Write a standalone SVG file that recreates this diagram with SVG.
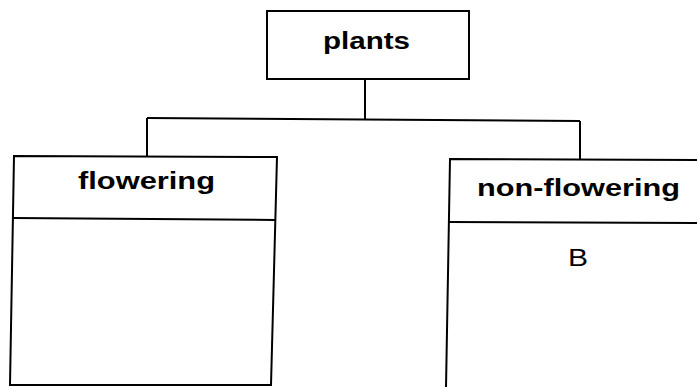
<svg xmlns="http://www.w3.org/2000/svg" width="697" height="387" viewBox="0 0 697 387">
<style>
.box{fill:none;stroke:#000;stroke-width:2;stroke-linejoin:miter}
.con{fill:none;stroke:#000;stroke-width:2}
.lbl{font-family:"Liberation Sans",Arial,sans-serif;font-weight:bold;font-size:23px;fill:#000}
.item{font-family:"Liberation Sans",Arial,sans-serif;font-size:24px;fill:#000}
</style>
<rect width="697" height="387" fill="#fff"/>
<g id="connectors">
<path class="con" d="M365,79 L365,119"/>
<path class="con" d="M147,118 L580,121"/>
<path class="con" d="M147,118 L147,156"/>
<path class="con" d="M580,121 L580,159"/>
</g>
<g id="plants">
<rect class="box" x="267" y="11" width="202" height="68"/>
<text class="lbl" x="323" y="49" textLength="87" lengthAdjust="spacingAndGlyphs">plants</text>
</g>
<g id="flowering">
<path class="box" d="M14,156 L277,157 L271,385 L10,385 Z"/>
<path class="box" d="M13,218 L275,220"/>
<text class="lbl" x="78" y="189" textLength="137" lengthAdjust="spacingAndGlyphs">flowering</text>
</g>
<g id="non-flowering">
<path class="box" d="M698,160 L450,159 L446,388"/>
<path class="box" d="M449,222 L698,223"/>
<text class="lbl" x="477" y="196" textLength="203" lengthAdjust="spacingAndGlyphs">non-flowering</text>
<text class="item" x="568" y="266" textLength="20" lengthAdjust="spacingAndGlyphs">B</text>
</g>
</svg>
